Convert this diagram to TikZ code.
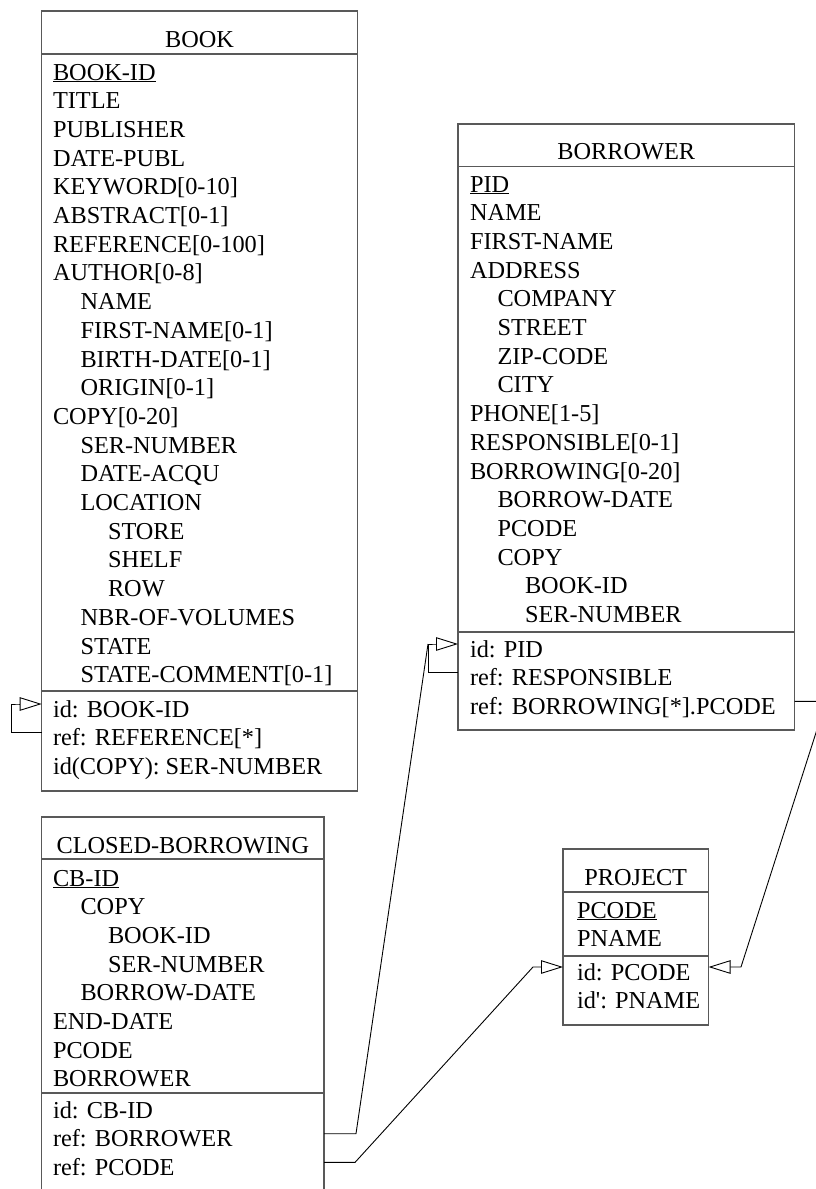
\documentclass[tikz,border=0pt]{standalone}
\usepackage{fontspec}
\setmainfont{Liberation Serif}
\usetikzlibrary{positioning,arrows.meta}

\tikzset{
	entity/.style={draw=black!65, line width=1.1pt, inner sep=0pt, outer sep=0pt, anchor=north west},
	divider/.style={draw=black!65, line width=1.1pt},
	attr/.style={anchor=base west, inner sep=0pt, outer sep=0pt, text height=26pt, text depth=0pt, font=\fontsize{24.3}{28.7}\selectfont},
	ename/.style={anchor=base, inner sep=0pt, font=\fontsize{24.3}{28.7}\selectfont},
	link/.style={draw=black, line width=0.9pt},
	idref/.style={-{Triangle[open,length=22pt,width=13.5pt]}}
}

\begin{document}
\begin{tikzpicture}[x=1pt,y=-1pt]
				
					\useasboundingbox (0,0) rectangle (816,1189);
					
					\node[entity, minimum width=315.8pt, minimum height=780pt] (book) at (41.7,11) {};
					\node[ename] (book-t) at (book.north |- 0,47) {BOOK};
					\draw[divider] (book.west |- 0,54) -- (book.east |- 0,54);
					\draw[divider] (book.west |- 0,691) -- (book.east |- 0,691);
					\foreach \t/\l [count=\i from 0] in {{\underline{BOOK-ID}}/0, TITLE/0, PUBLISHER/0, DATE-PUBL/0, KEYWORD[0-10]/0, ABSTRACT[0-1]/0, REFERENCE[0-100]/0, AUTHOR[0-8]/0, NAME/1, FIRST-NAME[0-1]/1, BIRTH-DATE[0-1]/1, ORIGIN[0-1]/1, COPY[0-20]/0, SER-NUMBER/1, DATE-ACQU/1, LOCATION/1, STORE/2, SHELF/2, ROW/2, NBR-OF-VOLUMES/1, STATE/1, STATE-COMMENT[0-1]/1}
						\node[attr] (book-a\i) at (53+27.5*\l, 80+28.7*\i) {\t};
					\foreach \t [count=\i from 0] in {id: BOOK-ID, ref: REFERENCE[*], id(COPY): SER-NUMBER}
						\node[attr] (book-k\i) at (53, 717+28.7*\i) {\t};
					
					\node[entity, minimum width=336.5pt, minimum height=606pt] (bor) at (458,124) {};
					\node[ename] (bor-t) at (bor.north |- 0,159) {BORROWER};
					\draw[divider] (bor.west |- 0,166.5) -- (bor.east |- 0,166.5);
					\draw[divider] (bor.west |- 0,632) -- (bor.east |- 0,632);
					\foreach \t/\l [count=\i from 0] in {{\underline{PID}}/0, NAME/0, FIRST-NAME/0, ADDRESS/0, COMPANY/1, STREET/1, ZIP-CODE/1, CITY/1, PHONE[1-5]/0, RESPONSIBLE[0-1]/0, BORROWING[0-20]/0, BORROW-DATE/1, PCODE/1, COPY/1, BOOK-ID/2, SER-NUMBER/2}
						\node[attr] (bor-a\i) at (470+27.5*\l, 192+28.7*\i) {\t};
					\foreach \t [count=\i from 0] in {id: PID, ref: RESPONSIBLE, ref: BORROWING[*].PCODE}
						\node[attr] (bor-k\i) at (470, 657+28.7*\i) {\t};
					
					\node[entity, minimum width=282.3pt, minimum height=390pt] (cb) at (41.7,817) {};
					\node[ename] (cb-t) at (cb.north |- 0,853) {CLOSED-BORROWING};
					\draw[divider] (cb.west |- 0,859) -- (cb.east |- 0,859);
					\draw[divider] (cb.west |- 0,1093) -- (cb.east |- 0,1093);
					\foreach \t/\l [count=\i from 0] in {{\underline{CB-ID}}/0, COPY/1, BOOK-ID/2, SER-NUMBER/2, BORROW-DATE/1, END-DATE/0, PCODE/0, BORROWER/0}
						\node[attr] (cb-a\i) at (53+27.5*\l, 886+28.7*\i) {\t};
					\foreach \t [count=\i from 0] in {id: CB-ID, ref: BORROWER, ref: PCODE}
						\node[attr] (cb-k\i) at (53, 1118+28.7*\i) {\t};
					
					\node[entity, minimum width=145.5pt, minimum height=176pt] (prj) at (563,849) {};
					\node[ename] (prj-t) at (prj.north |- 0,885) {PROJECT};
					\draw[divider] (prj.west |- 0,892) -- (prj.east |- 0,892);
					\draw[divider] (prj.west |- 0,956) -- (prj.east |- 0,956);
					\foreach \t/\l [count=\i from 0] in {{\underline{PCODE}}/0, PNAME/0}
						\node[attr] (prj-a\i) at (577, 918+28.7*\i) {\t};
					\foreach \t [count=\i from 0] in {id: PCODE, id\textquotesingle: PNAME}
						\node[attr] (prj-k\i) at (577, 980+28.7*\i) {\t};
					
					\path (book-k0.west -| book.west) coordinate (book-tip) ++(-22.7,0) coordinate (book-base);
					\path (bor-k0.west -| bor.west) coordinate (bor-tip) ++(-22,0) coordinate (bor-base) ++(-8,0) coordinate (bor-turn);
					\path (prj-k0.west -| prj.west) coordinate (prj-ltip) ++(-23,0) coordinate (prj-lbase) ++(-7,0) coordinate (prj-lturn);
					\path (prj-k0.west -| prj.east) coordinate (prj-rtip) ++(24.5,0) coordinate (prj-rbase) ++(8,0) coordinate (prj-rturn);
					
					\draw[link,idref] (book-k1.west -| book.west) -- ++(-30.7,0) |- (book-base) -- (book-tip);
					\draw[link,idref] (bor-k1.west -| bor.west) -| (bor-turn) -- (bor-base) -- (bor-tip);
					\draw[link] (cb-k1.west -| cb.east) -- ++(32,0) -- (bor-turn);
					\draw[link,idref] (cb-k2.west -| cb.east) -- ++(31,0) -- (prj-lturn) -- (prj-lbase) -- (prj-ltip);
					\draw[link,idref] (bor-k2.west -| bor.east) -- ++(31.5,0) -- (prj-rturn) -- (prj-rbase) -- (prj-rtip);

				\end{tikzpicture}
\end{document}
